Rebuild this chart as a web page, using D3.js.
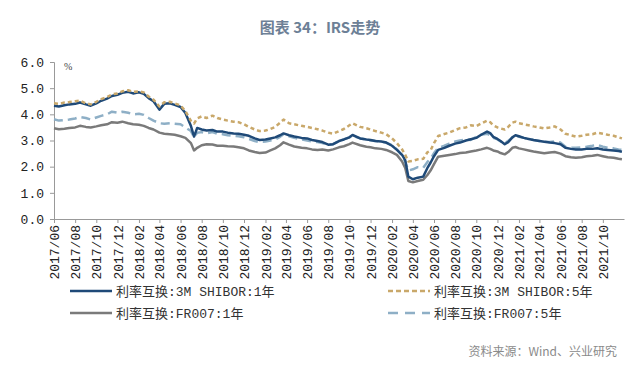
<!DOCTYPE html>
<html>
<head>
<meta charset="utf-8">
<script src="https://cdn.jsdelivr.net/npm/d3@7"></script>
<style>
  body { margin: 0; background: #fff; }
  svg { display: block; }
</style>
</head>
<body>
<svg width="640" height="370"></svg>
<script>
var width = 640;
var height = 370;

// dates of the points (roughly twice a month, a few extra around turns)
var dates = [
  "2017-06-01","2017-06-15","2017-07-01","2017-07-15","2017-08-01","2017-08-15","2017-09-01","2017-09-15",
  "2017-10-01","2017-10-15","2017-11-01","2017-11-15","2017-12-01","2017-12-15","2018-01-01","2018-01-15",
  "2018-02-01","2018-02-15","2018-03-01","2018-03-15","2018-04-01","2018-04-15","2018-05-01","2018-05-15",
  "2018-06-01","2018-06-15","2018-07-01","2018-07-10","2018-07-19","2018-08-01","2018-08-15","2018-09-01",
  "2018-09-15","2018-10-01","2018-10-15","2018-11-01","2018-11-15","2018-12-01","2018-12-15","2019-01-01",
  "2019-01-15","2019-02-01","2019-02-15","2019-03-01","2019-03-15","2019-03-25","2019-04-10","2019-04-25",
  "2019-05-16","2019-06-01","2019-06-15","2019-07-01","2019-07-15","2019-08-01","2019-08-15","2019-09-01",
  "2019-09-15","2019-10-01","2019-10-10","2019-11-01","2019-11-19","2019-12-01","2019-12-15","2020-01-01",
  "2020-01-15","2020-02-01","2020-02-15","2020-03-01","2020-03-10","2020-03-19","2020-04-01","2020-04-15",
  "2020-05-01","2020-05-13","2020-05-22","2020-06-01","2020-06-13","2020-07-01","2020-07-15","2020-08-01",
  "2020-08-15","2020-09-01","2020-09-15","2020-10-01","2020-10-15","2020-11-01","2020-11-10","2020-11-19",
  "2020-12-01","2020-12-10","2020-12-22","2021-01-01","2021-01-13","2021-01-22","2021-02-01","2021-02-15",
  "2021-03-01","2021-03-15","2021-04-01","2021-04-15","2021-05-01","2021-05-15","2021-06-01","2021-06-15",
  "2021-07-01","2021-07-15","2021-08-01","2021-08-15","2021-09-01","2021-09-15","2021-10-01","2021-10-15",
  "2021-11-01","2021-11-15","2021-11-25"
];

var shibor1y = [
  4.33,4.30,4.35,4.38,4.40,4.45,4.38,4.33, 4.42,4.52,4.60,4.70,4.75,4.82,4.86,4.80,
  4.84,4.78,4.62,4.50,4.18,4.40,4.42,4.36, 4.28,4.05,3.55,3.15,3.48,3.42,3.38,3.40,
  3.34,3.34,3.30,3.27,3.26,3.22,3.18,3.08, 3.02,3.04,3.08,3.12,3.20,3.27,3.20,3.15,
  3.10,3.08,3.02,2.98,2.94,2.84,2.86,2.98, 3.04,3.12,3.21,3.08,3.04,3.02,2.98,2.96,
  2.92,2.80,2.64,2.45,2.25,1.62,1.52,1.58, 1.62,1.95,2.15,2.40,2.64,2.72,2.80,2.88,
  2.92,3.00,3.05,3.10,3.22,3.34,3.28,3.14, 3.06,2.98,2.86,2.94,3.12,3.20,3.16,3.10,
  3.06,3.02,2.98,2.95,2.92,2.90,2.86,2.72, 2.68,2.66,2.66,2.68,2.68,2.70,2.66,2.64,
  2.62,2.60,2.57
];

var shibor5y = [
  4.42,4.40,4.45,4.47,4.50,4.52,4.42,4.38, 4.48,4.58,4.66,4.76,4.80,4.88,4.92,4.86,
  4.88,4.84,4.68,4.56,4.30,4.46,4.48,4.42, 4.34,4.12,3.75,3.65,3.85,3.92,3.86,3.95,
  3.86,3.80,3.76,3.72,3.70,3.62,3.52,3.42, 3.36,3.38,3.44,3.52,3.68,3.80,3.66,3.62,
  3.56,3.52,3.48,3.43,3.38,3.30,3.26,3.36, 3.44,3.58,3.66,3.52,3.47,3.42,3.36,3.30,
  3.24,3.08,2.90,2.66,2.45,2.20,2.22,2.28, 2.30,2.55,2.62,2.90,3.17,3.25,3.30,3.40,
  3.47,3.50,3.58,3.55,3.65,3.76,3.70,3.58, 3.50,3.46,3.42,3.52,3.68,3.72,3.66,3.62,
  3.58,3.54,3.50,3.46,3.50,3.54,3.42,3.26, 3.20,3.15,3.18,3.22,3.24,3.30,3.26,3.22,
  3.18,3.12,3.08
];

var fr1y = [
  3.47,3.43,3.45,3.48,3.50,3.56,3.52,3.50, 3.54,3.58,3.62,3.70,3.68,3.72,3.66,3.62,
  3.60,3.56,3.48,3.42,3.30,3.26,3.24,3.22, 3.16,3.10,2.90,2.62,2.72,2.82,2.86,2.85,
  2.80,2.80,2.78,2.77,2.74,2.70,2.62,2.56, 2.52,2.54,2.62,2.70,2.82,2.93,2.84,2.77,
  2.72,2.70,2.66,2.64,2.66,2.62,2.66,2.74, 2.78,2.86,2.92,2.82,2.76,2.74,2.70,2.68,
  2.64,2.55,2.45,2.20,1.95,1.45,1.40,1.45, 1.50,1.68,1.85,2.10,2.38,2.42,2.45,2.48,
  2.52,2.54,2.58,2.62,2.66,2.72,2.68,2.62, 2.58,2.52,2.47,2.56,2.72,2.75,2.70,2.66,
  2.62,2.58,2.54,2.51,2.54,2.56,2.50,2.40, 2.36,2.34,2.36,2.40,2.42,2.45,2.40,2.36,
  2.34,2.30,2.28
];

var fr5y = [
  3.81,3.76,3.78,3.80,3.84,3.90,3.86,3.80, 3.88,3.94,4.00,4.10,4.06,4.10,4.06,4.00,
  4.02,3.98,3.86,3.76,3.66,3.64,3.66,3.64, 3.62,3.50,3.36,3.12,3.30,3.32,3.28,3.32,
  3.26,3.24,3.20,3.18,3.16,3.12,3.06,2.98, 2.94,2.96,3.00,3.04,3.14,3.24,3.16,3.10,
  3.04,3.00,2.96,2.94,2.90,2.84,2.86,2.98, 3.04,3.12,3.18,3.08,3.04,3.00,2.98,2.96,
  2.92,2.82,2.66,2.42,2.18,1.85,1.90,1.98, 1.96,2.18,2.30,2.52,2.72,2.80,2.88,2.96,
  3.00,3.04,3.02,3.14,3.22,3.26,3.20,3.10, 3.04,2.96,2.90,2.98,3.12,3.18,3.14,3.10,
  3.06,3.02,2.98,2.96,2.94,2.96,2.92,2.76, 2.72,2.72,2.74,2.76,2.80,2.84,2.76,2.72,
  2.70,2.66,2.64
];

var seriesNames = ["利率互换:3M SHIBOR:1年", "利率互换:3M SHIBOR:5年", "利率互换:FR007:1年", "利率互换:FR007:5年"];
var yTicks = [0, 1, 2, 3, 4, 5, 6];

var parse = d3.timeParse("%Y-%m-%d");
var svg = d3.select("svg");

var x = d3.scaleTime()
  .domain([parse("2017-06-01"), parse("2021-12-01")])
  .range([54, 624]);
var y = d3.scaleLinear().domain([0, 6]).range([219, 62]);

// title
svg.append("text")
  .attr("x", 320).attr("y", 33)
  .attr("text-anchor", "middle")
  .style("font-family", "'Noto Sans CJK SC', 'Noto Sans', sans-serif")
  .style("font-size", "15px")
  .style("font-weight", "bold")
  .style("fill", "#6d8096")
  .text("图表 34：IRS走势");

// y axis
var yAxis = svg.append("g")
  .attr("transform", "translate(54,0)")
  .call(d3.axisLeft(y).tickValues(yTicks).tickFormat(d3.format(".1f")).tickSize(4).tickPadding(6));
yAxis.select(".domain").attr("stroke", "#999");
yAxis.selectAll(".tick line").attr("stroke", "#999");
yAxis.selectAll("text")
  .style("font-family", "'Liberation Mono', 'DejaVu Sans Mono', monospace")
  .style("font-size", "13px")
  .style("fill", "#222");

svg.append("text")
  .attr("x", 64).attr("y", 70)
  .style("font-family", "'Liberation Serif', serif")
  .style("font-size", "10px")
  .style("fill", "#444")
  .text("%");

// x axis: a tick every two months from 2017/06
var monthTicks = d3.range(0, 53, 2).map(function(k) {
  return d3.timeMonth.offset(parse("2017-06-01"), k);
});
var xAxis = svg.append("g")
  .attr("transform", "translate(0,219)")
  .call(d3.axisBottom(x).tickValues(monthTicks).tickFormat(d3.timeFormat("%Y/%m")).tickSize(4).tickSizeOuter(0));
xAxis.select(".domain").attr("stroke", "#999");
xAxis.selectAll(".tick line").attr("stroke", "#999");
xAxis.selectAll("text")
  .attr("transform", "rotate(-90)")
  .attr("text-anchor", "end")
  .attr("x", -6).attr("y", 0).attr("dy", "0.35em")
  .style("font-family", "'Liberation Mono', 'DejaVu Sans Mono', monospace")
  .style("font-size", "13px")
  .style("fill", "#222");

// lines
var series = [
  {name: seriesNames[2], vals: fr1y, color: "#7a7a7a", dash: null},
  {name: seriesNames[3], vals: fr5y, color: "#8eafc6", dash: "9,5"},
  {name: seriesNames[0], vals: shibor1y, color: "#1f4a78", dash: null},
  {name: seriesNames[1], vals: shibor5y, color: "#c9a86a", dash: "4,3"}
];

var line = d3.line()
  .x(function(d) { return x(d.date); })
  .y(function(d) { return y(d.v); });

series.forEach(function(s) {
  var pts = dates.map(function(d, i) { return {date: parse(d), v: s.vals[i]}; });
  svg.append("path")
    .datum(pts)
    .attr("fill", "none")
    .attr("stroke", s.color)
    .attr("stroke-width", 2.5)
    .attr("stroke-dasharray", s.dash)
    .attr("stroke-linejoin", "round")
    .attr("d", line);
});

// legend
var legendItems = [
  {name: seriesNames[0], color: "#1f4a78", dash: null, lx: 70, ly: 291},
  {name: seriesNames[1], color: "#c9a86a", dash: "5,3", lx: 388, ly: 291},
  {name: seriesNames[2], color: "#7a7a7a", dash: null, lx: 70, ly: 313},
  {name: seriesNames[3], color: "#8eafc6", dash: "10,7", lx: 388, ly: 313}
];

var lg = svg.selectAll("g.legend")
  .data(legendItems)
  .enter()
  .append("g")
  .attr("class", "legend")
  .attr("transform", function(d) { return "translate(" + d.lx + "," + d.ly + ")"; });

lg.append("line")
  .attr("x1", 0).attr("x2", 42).attr("y1", 0).attr("y2", 0)
  .attr("stroke", function(d) { return d.color; })
  .attr("stroke-width", 2.5)
  .attr("stroke-dasharray", function(d) { return d.dash; });

lg.append("text")
  .attr("x", 46).attr("y", 0).attr("dy", "0.35em")
  .style("font-family", "'Liberation Mono', 'Noto Sans CJK SC', monospace")
  .style("font-size", "13px")
  .style("fill", "#333")
  .text(function(d) { return d.name; });

// source
svg.append("text")
  .attr("x", 617).attr("y", 356)
  .attr("text-anchor", "end")
  .style("font-family", "'Noto Sans CJK SC', sans-serif")
  .style("font-size", "12px")
  .style("fill", "#8a8a8a")
  .text("资料来源：Wind、兴业研究");
</script>
</body>
</html>
